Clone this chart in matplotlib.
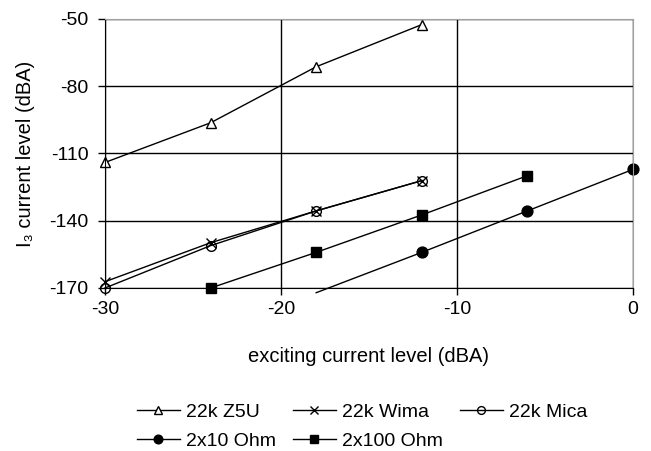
import matplotlib
matplotlib.use("Agg")
import matplotlib.pyplot as plt

plt.rcParams['font.family'] = ['Liberation Sans', 'DejaVu Sans']
plt.rcParams['axes.unicode_minus'] = False

# series values
x_z5u = [-30, -24, -18, -12]
y_z5u = [-114, -96.3, -71.3, -52.5]

x_wima = [-30, -24, -18, -12]
y_wima = [-167.2, -149.8, -135.6, -122.1]

x_mica = [-30, -24, -18, -12]
y_mica = [-170, -151.1, -135.6, -122.1]

x_10 = [-18, -12, -6, 0]
y_10 = [-172.1, -154.1, -135.6, -117.1]

x_100 = [-24, -18, -12, -6]
y_100 = [-170, -154.1, -137.4, -119.9]

xticks = [-30, -20, -10, 0]
yticks = [-170, -140, -110, -80, -50]

fig = plt.figure(figsize=(6.51, 4.51), dpi=100)
ax = fig.add_axes([105/651, 1 - 288/451, (633 - 105)/651, (288 - 19)/451])

lz, = ax.plot(x_z5u, y_z5u, color='black', lw=1, marker='^', ms=7.5,
              mfc='white', mec='black', mew=1, label='22k Z5U')
lw_, = ax.plot(x_wima, y_wima, color='black', lw=1, marker='x', ms=7,
               mew=1, label='22k Wima')
lm, = ax.plot(x_mica, y_mica, color='black', lw=1, marker='o', ms=7,
              mfc='none', mec='black', mew=1, label='22k Mica')
l10, = ax.plot(x_10, y_10, color='black', lw=1, marker='o', ms=7.8,
               markevery=[1, 2, 3], clip_on=False, label='2x10 Ohm')
l100, = ax.plot(x_100, y_100, color='black', lw=1, marker='s', ms=7.8,
                label='2x100 Ohm')
for ln in (lz, lw_, lm, l100):
    ln.set_clip_on(False)

ax.set_xlim(-30, 0)
ax.set_ylim(-170, -50)
ax.set_xticks(xticks)
ax.set_yticks(yticks)
ax.tick_params(labelsize=14, direction='out', length=5, width=1)
ax.tick_params(axis='y', pad=7)
ax.tick_params(axis='x', pad=4)
ax.grid(True, color='black', lw=1)
ax.set_axisbelow(True)
for s in ('top', 'right'):
    ax.spines[s].set_color('#a0a0a0')
for s in ('left', 'bottom'):
    ax.spines[s].set_color('black')

ax.set_xlabel('exciting current level (dBA)', fontsize=14.5, labelpad=21)
ax.set_ylabel('I\u2083 current level (dBA)', fontsize=14.5, labelpad=10)

handles = [lz, l10, lw_, l100, lm]
fig.legend(handles, [h.get_label() for h in handles], loc='center',
           bbox_to_anchor=(362/651, 1 - 426.5/451), ncol=3, frameon=False,
           fontsize=14, handlelength=2.2, handletextpad=0.3,
           columnspacing=0.9, labelspacing=0.6, markerscale=0.8,
           borderpad=0)

fig.savefig('out.png', dpi=100)
